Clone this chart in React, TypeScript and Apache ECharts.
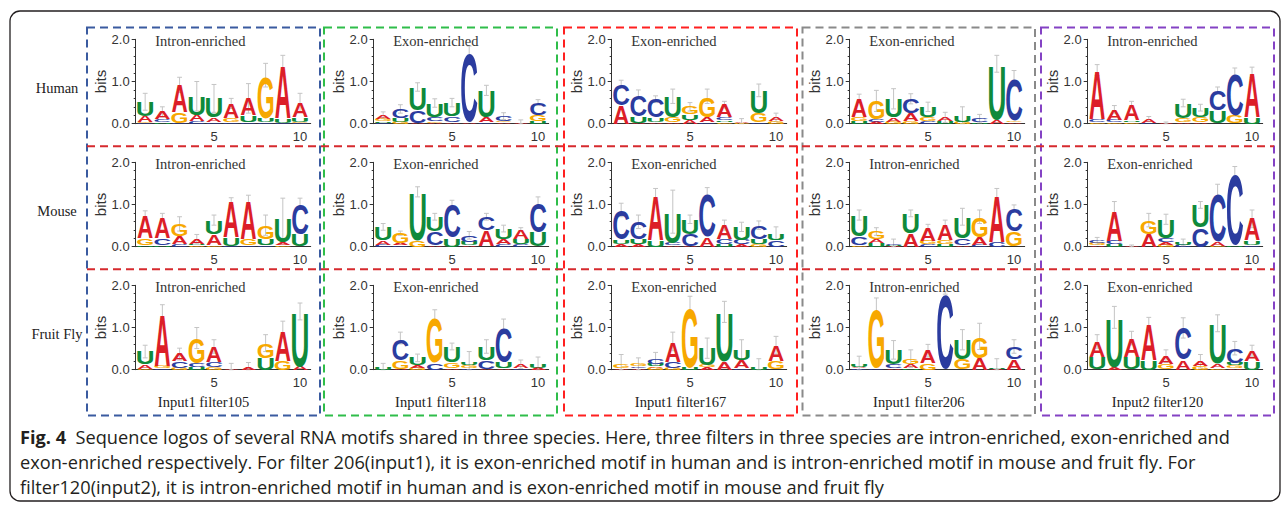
import React, { useEffect, useRef } from "react";
import * as echarts from "echarts";

// ---------- labels ----------
const species = ["Human", "Mouse", "Fruit Fly"];
const filterLabels = ["Input1 filter105", "Input1 filter118", "Input1 filter167", "Input1 filter206", "Input2 filter120"];
const enrichment = [
  ["Intron-enriched", "Exon-enriched", "Exon-enriched", "Exon-enriched", "Intron-enriched"],
  ["Intron-enriched", "Exon-enriched", "Exon-enriched", "Intron-enriched", "Exon-enriched"],
  ["Intron-enriched", "Exon-enriched", "Exon-enriched", "Intron-enriched", "Exon-enriched"],
];
const xTickValues = [5, 10];
const yTickValues = [0, 1, 2];
const captionBold = "Fig. 4";
const captionLines = [
  "Sequence logos of several RNA motifs shared in three species. Here, three filters in three species are intron-enriched, exon-enriched and",
  "exon-enriched respectively. For filter 206(input1), it is exon-enriched motif in human and is intron-enriched motif in mouse and fruit fly. For",
  "filter120(input2), it is intron-enriched motif in human and is exon-enriched motif in mouse and fruit fly",
];

// ---------- logo data: per position, letters bottom->top with bits, ± error ----------
const human105 = ["C.02 G.02 A.14 U.34 ±.2", "U.04 C.06 A.18 ±.12", "C.02 G.25 A.65 ±.18", "C.05 A.15 U.45 ±.35", "C.04 A.1 U.46 ±.33", "C.03 G.1 A.35 ±.12", "C.03 U.17 A.4 ±.35", "C.03 U.1 G1.02 ±.28", "C.02 U.1 A1.25 ±.25", "C.02 G.03 U.1 A.35 ±.22"];
const human118 = ["C.02 U.03 G.07 A.08 ±.08", "G.05 U.08 C.22 ±.1", "A.02 C.3 U.55 ±.1", "A.02 G.04 C.1 U.33 ±.1", "A.04 C.14 U.32 ±.1", "A.04 C1.68 ±.12", "C.03 A.13 U.63 ±.12", "A.04 G.02 C.12 ±.08", "A.03 ±.06", "U.05 G.15 C.3 ±.07"];
const human167 = ["A.43 C.52 ±.08", "A.02 U.15 C.53 ±.1", "A.04 U.1 C.44 ±.08", "A.03 G.12 U.5 ±.17", "A.08 U.14 G.18 ±.1", "C.03 A.12 G.5 ±.17", "G.04 U.04 C.07 A.3 ±.08", "G.02 A.02 ±.08", "C.03 G.22 U.54 ±.15", "G.06 A.09 ±.1"];
const human206 = ["U.07 G.1 A.43 ±.1", "A.05 C.05 G.44 ±.25", "G.05 A.1 U.44 ±.24", "G.05 A.2 C.34 ±.12", "C.05 G.1 U.25 ±.11", "U.06 A.09 ±.12", "G.05 U.15 ±.2", "U.04 C.08 ±.1", "A.1 U1.32 ±.2", "A.04 G.04 C.99 ±.19"];
const human120 = ["G.04 C.06 A1.17 ±.13", "G.03 C.06 A.25 ±.09", "G.04 U.04 A.37 ±.08", "C.03 A.08 ±.06", "A.02 ±.02", "A.04 G.1 U.35 ±.09", "A.03 G.12 U.23 ±.08", "U.3 C.5 ±.07", "G.2 C1.02 ±.1", "U.15 A1.07 ±.12"];
const mouse105 = ["U.04 G.17 A.54 ±.1", "U.03 C.17 A.51 ±.08", "C.05 A.2 G.29 ±.17", "G.03 U.04 A.11 ±.11", "G.04 A.26 U.33 ±.12", "C.02 U.2 A.85 ±.09", "C.03 G.15 A.92 ±.12", "C.03 U.15 G.33 ±.24", "G.04 A.06 U.57 ±.48", "U.3 C.73 ±.12"];
const mouse118 = ["C.05 A.1 U.32 ±.08", "C.03 A.05 G.24 ±.05", "G.15 U1.15 ±.12", "A.03 C.33 U.35 ±.08", "U.2 C.8 ±.1", "A.03 U.08 C.16 ±.09", "A.38 C.33 ±.08", "C.06 A.13 U.24 ±.08", "C.06 U.12 A.23 ±.04", "U.35 C.72 ±.11"];
const mouse167 = ["A.07 U.1 C.7 ±.16", "A.06 U.12 C.41 ±.16", "U.15 A1.07 ±.16", "A.04 C.06 U.73 ±.51", "A.02 C.28 U.35 ±.1", "A.22 C1.04 ±.14", "U.06 C.11 A.34 ±.12", "A.05 C.11 U.31 ±.11", "G.05 U.13 C.33 ±.1", "C.15 U.17 ±.15"];
const mouse206 = ["G.04 C.2 U.51 ±.12", "U.08 A.1 G.18 ±.09", "A.02 U.03 C.03 ±.1", "A.32 U.47 ±.08", "C.05 G.1 A.32 ±.06", "U.05 G.1 A.38 ±.1", "A.04 C.17 U.5 ±.2", "C.05 A.17 G.49 ±.16", "C.12 A1.1 ±.16", "G.36 C.55 ±.08"];
const mouse120 = ["A.04 G.05 C.05 ±.08", "U.05 C.1 A.72 ±.2", "A.02 ±.02", "A.3 G.33 ±.16", "G.05 A.06 C.1 U.44 ±.12", "C.05 U.05 ±.08", "C.46 U.53 ±.08", "G.02 A.1 C1.18 ±.18", "U.03 C1.71 ±.16", "C.04 U.1 A.52 ±.21"];
const fly105 = ["G.02 A.1 U.31 ±.15", "C.03 G.07 A1.24 ±.2", "G.05 C.15 A.17 ±.14", "U.05 C.1 G.6 ±.25", "G.05 C.12 A.38 ±.16", "A.03 ±.12", "A.07 ±.1", "U.28 G.35 ±.2", "G.22 A.73 ±.2", "A.08 U1.3 ±.2"];
const fly118 = ["U.05 ±.1", "A.02 G.2 C.53 ±.14", "G.05 A.05 U.18 ±.09", "C.15 G1.09 ±.18", "A.04 G.14 U.37 ±.08", "C.04 G.06 U.05 ±.28", "A.02 C.2 U.33 ±.16", "A.03 U.15 C.85 ±.17", "C.04 A.09 ±.1", "A.05 U.1 ±.15"];
const fly167 = ["A.04 G.08 ±.24", "A.04 C.04 G.05 ±.15", "G.05 A.03 U.05 C.13 ±.15", "G.05 C.15 A.47 ±.22", "U.05 G1.45 ±.24", "A.06 G.05 U.4 ±.24", "A.2 U1.17 ±.25", "C.04 A.18 U.25 ±.24", "U.06 ±.2", "G.2 A.38 ±.21"];
const fly206 = ["C.03 A.03 U.06 ±.2", "C.04 G1.42 ±.24", "A.04 C.08 U.35 ±.22", "U.04 A.1 G.12 ±.21", "G.15 A.3 ±.15", "C1.82 ±.03", "G.25 U.46 ±.24", "A.27 G.52 ±.31", "A.02 U.04 ±.2", "A.25 C.3 ±.16"];
const fly120 = ["U.3 A.37 ±.16", "A.05 U1.19 ±.26", "U.3 A.45 ±.16", "U.22 A.85 ±.17", "G.12 A.2 ±.15", "A.22 C.77 ±.24", "G.08 A.12 ±.16", "G.04 A.1 U.96 ±.2", "A.04 G.06 U.05 C.36 ±.16", "U.2 A.25 ±.13"];

const panels = [
  [human105, human118, human167, human206, human120],
  [mouse105, mouse118, mouse167, mouse206, mouse120],
  [fly105, fly118, fly167, fly206, fly120],
];

// ---------- style / layout ----------
const LETTERS = ["A", "C", "G", "U"];
const LETTER_COLORS: Record<string, string> = { A: "#dc1e28", C: "#2b3c9f", G: "#f7a800", U: "#0f8a3b" };
const GLYPH: Record<string, { w: number; h: number }> = {
  A: { w: 0.72, h: 0.716 }, C: { w: 0.66, h: 0.74 }, G: { w: 0.7, h: 0.74 }, U: { w: 0.62, h: 0.728 },
};
const FS = 100;
const CENTER_SHIFT = 0.0115;
const BOX_COLORS = ["#3a5ba0", "#2fbd4a", "#ff2020", "#8a8a8a", "#8442c4"];
const BOX_X = [[87, 320], [324, 557], [564, 797], [802.5, 1035], [1041, 1274]];
const AXIS_X0 = 135.7;
const COL_DX = [0, 238, 476, 714, 952];
const ROW_Y0 = 39.3;
const ROW_DY = 123;
const PLOT_W = 175;
const PLOT_H = 84.4;
const SERIF = '"Liberation Serif", "Times New Roman", serif';
const SANS = '"Liberation Sans", Arial, sans-serif';

function parseStack(s: string) {
  const letters: [string, number][] = [];
  let err = 0;
  for (const t of s.split(" ")) {
    if (t[0] === "±") err = parseFloat(t.slice(1));
    else letters.push([t[0], parseFloat(t.slice(1))]);
  }
  return { letters, err };
}

export default function App() {
  const ref = useRef<HTMLDivElement>(null);
  useEffect(() => {
    const chart = echarts.init(ref.current!, null, { renderer: "svg" });
    const grid: any[] = [];
    const xAxis: any[] = [];
    const yAxis: any[] = [];
    const series: any[] = [];
    const graphic: any[] = [];

    panels.forEach((row, r) => {
      row.forEach((panel, c) => {
        const i = r * 5 + c;
        grid.push({
          left: AXIS_X0 + COL_DX[c], top: ROW_Y0 + r * ROW_DY, width: PLOT_W, height: PLOT_H,
          containLabel: false, outerBoundsMode: "none",
        });
        xAxis.push({
          gridIndex: i, type: "value", min: 0.45, max: 10.62,
          axisLine: { onZero: false, lineStyle: { color: "#333", width: 1 } },
          axisTick: { show: false },
          splitLine: { show: false },
          axisLabel: { customValues: xTickValues, fontSize: 13, color: "#333", fontFamily: SANS, margin: 6 },
        });
        yAxis.push({
          gridIndex: i, type: "value", min: 0, max: 2, interval: 1,
          axisLine: { show: true, lineStyle: { color: "#333", width: 1 } },
          axisTick: { show: true, length: 4, lineStyle: { color: "#333" } },
          minorTick: { show: true, splitNumber: 5, length: 2, lineStyle: { color: "#333" } },
          splitLine: { show: false },
          axisLabel: {
            customValues: yTickValues, formatter: (v: number) => v.toFixed(1),
            fontSize: 13, color: "#333", fontFamily: SANS, margin: 6,
          },
          name: "bits", nameLocation: "middle", nameRotate: 90, nameGap: 22,
          nameTextStyle: { fontSize: 15, color: "#333", fontFamily: SANS },
        });

        const letterData: any[] = [];
        const errData: any[] = [];
        panel.forEach((s, p) => {
          const { letters, err } = parseStack(s);
          let base = 0;
          letters.forEach(([L, h]) => {
            letterData.push([p + 1, base, base + h, LETTERS.indexOf(L)]);
            base += h;
          });
          errData.push([p + 1, base, err]);
        });

        series.push({
          type: "custom", xAxisIndex: i, yAxisIndex: i, z: 2, clip: false,
          encode: { x: 0, y: 1 },
          data: errData,
          renderItem: (_params: any, api: any) => {
            const x = api.value(0), top = api.value(1), e = api.value(2);
            const a = api.coord([x, top + e]);
            const b = api.coord([x, Math.max(0, top - e)]);
            const hw = api.size([1, 0])[0] * 0.14;
            const st = { stroke: "#c4c4c4", lineWidth: 1 };
            return {
              type: "group",
              children: [
                { type: "line", shape: { x1: a[0], y1: a[1], x2: b[0], y2: b[1] }, style: st },
                { type: "line", shape: { x1: a[0] - hw, y1: a[1], x2: a[0] + hw, y2: a[1] }, style: st },
                { type: "line", shape: { x1: b[0] - hw, y1: b[1], x2: b[0] + hw, y2: b[1] }, style: st },
              ],
            };
          },
        });
        series.push({
          type: "custom", xAxisIndex: i, yAxisIndex: i, z: 3, clip: false,
          encode: { x: 0, y: [1, 2] },
          data: letterData,
          renderItem: (_params: any, api: any) => {
            const x = api.value(0), y0 = api.value(1), y1 = api.value(2);
            const L = LETTERS[api.value(3)];
            const p0 = api.coord([x, y0]);
            const p1 = api.coord([x, y1]);
            const unit = api.size([1, 0])[0];
            const hpx = p0[1] - p1[1];
            if (hpx < 0.2) return null;
            const g = GLYPH[L];
            const sx = (unit * 0.94) / (g.w * FS);
            const sy = hpx / (g.h * FS);
            const cy = (p0[1] + p1[1]) / 2;
            return {
              type: "text",
              x: p0[0], y: cy + CENTER_SHIFT * FS * sy,
              scaleX: sx, scaleY: sy,
              style: {
                text: L, fontSize: FS, fontFamily: SANS, fontWeight: "bold",
                fill: LETTER_COLORS[L], align: "center", verticalAlign: "middle",
                textAlign: "center", textVerticalAlign: "middle",
              },
            };
          },
        });

        graphic.push({
          type: "text", x: AXIS_X0 + COL_DX[c] + 19.5, y: 41.3 + r * ROW_DY, z: 10,
          style: {
            text: enrichment[r][c], font: `14.5px ${SERIF}`, fill: "#333",
            align: "left", verticalAlign: "middle", textAlign: "left", textVerticalAlign: "middle",
          },
        });
      });
      graphic.push({
        type: "text", x: 57, y: 88 + r * ROW_DY, z: 10,
        style: {
          text: species[r], font: `14.5px ${SERIF}`, fill: "#222",
          align: "center", verticalAlign: "middle", textAlign: "center", textVerticalAlign: "middle",
        },
      });
    });

    // column boxes
    BOX_X.forEach(([x0, x1], c) => {
      graphic.push({
        type: "rect", z: 5, shape: { x: x0, y: 27.5, width: x1 - x0, height: 388 },
        style: { fill: "none", stroke: BOX_COLORS[c], lineWidth: 2, lineDash: [8, 5] },
      });
      graphic.push({
        type: "text", x: (x0 + x1) / 2, y: 402, z: 10,
        style: {
          text: filterLabels[c], font: `14.5px ${SERIF}`, fill: "#222",
          align: "center", verticalAlign: "middle", textAlign: "center", textVerticalAlign: "middle",
        },
      });
    });
    // row separators
    [146.3, 269.3].forEach((y) => {
      graphic.push({
        type: "line", z: 6, shape: { x1: 87, y1: y, x2: 1274, y2: y },
        style: { stroke: "#d62a2e", lineWidth: 2, lineDash: [8, 5] },
      });
    });
    // outer frame
    graphic.push({
      type: "rect", z: 4, shape: { x: 10, y: 11, width: 1270, height: 490, r: 10 },
      style: { fill: "none", stroke: "#231f20", lineWidth: 1.3 },
    });
    // caption
    const CAP_FONT = '"Open Sans", "Noto Sans", sans-serif';
    captionLines.forEach((line, k) => {
      graphic.push({
        type: "text", x: 20, y: 437 + k * 25, z: 10,
        style: {
          text: k === 0 ? `{b|${captionBold}}  ${line}` : line,
          font: `18.2px ${CAP_FONT}`, fill: "#231f20",
          align: "left", verticalAlign: "middle", textAlign: "left", textVerticalAlign: "middle",
          rich: { b: { fontWeight: "bold", fontSize: 18.2, fontFamily: CAP_FONT, fill: "#231f20" } },
        },
      });
    });

    chart.setOption({
      animation: false,
      backgroundColor: "#ffffff",
      grid, xAxis, yAxis, series, graphic,
    });
    return () => chart.dispose();
  }, []);
  return (
    <div
      ref={ref}
      style={{ position: "fixed", left: 0, top: 0, width: 1284, height: 510, background: "#fff" }}
    />
  );
}
